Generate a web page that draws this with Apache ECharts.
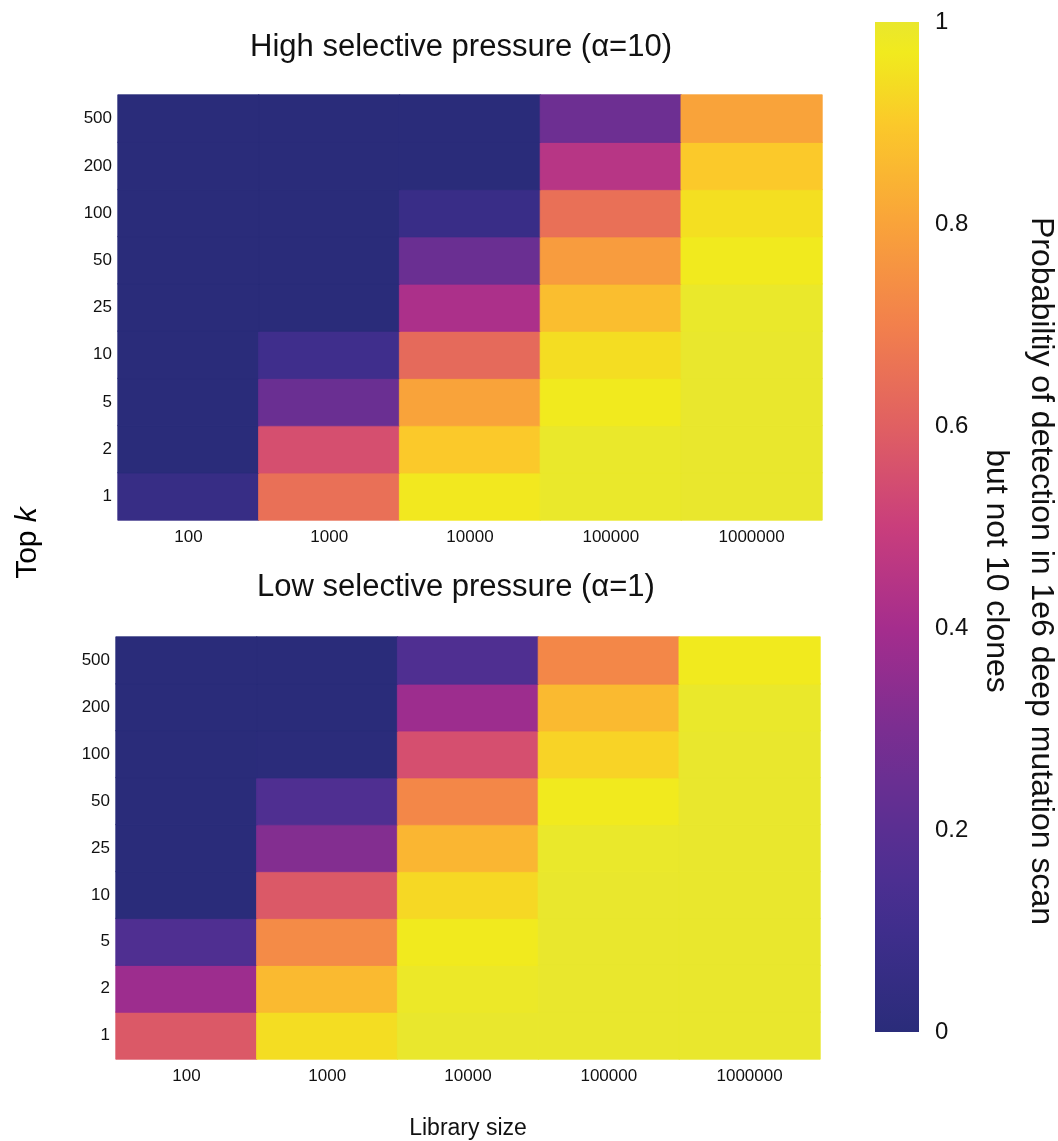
<!DOCTYPE html>
<html><head><meta charset="utf-8">
<script src="https://cdn.jsdelivr.net/npm/echarts@6/dist/echarts.min.js"></script>
<style>html,body{margin:0;padding:0;background:#fff}#c{width:1058px;height:1141px}</style>
</head><body><div id="c"></div><script>
const librarySizes = ['100', '1000', '10000', '100000', '1000000'];
const topK = ['1', '2', '5', '10', '25', '50', '100', '200', '500'];
// rows follow topK (bottom to top), columns follow librarySizes
const highPressure = [
  [0.06, 0.65, 0.965, 0.995, 1.0],
  [0.0, 0.55, 0.90, 0.995, 1.0],
  [0.0, 0.25, 0.80, 0.97, 1.0],
  [0.0, 0.10, 0.63, 0.94, 1.0],
  [0.0, 0.0, 0.42, 0.87, 0.995],
  [0.0, 0.0, 0.25, 0.78, 0.97],
  [0.0, 0.0, 0.07, 0.65, 0.945],
  [0.0, 0.0, 0.0, 0.45, 0.90],
  [0.0, 0.0, 0.0, 0.26, 0.80]
];
const lowPressure = [
  [0.58, 0.94, 1.0, 1.0, 1.0],
  [0.38, 0.86, 0.99, 1.0, 1.0],
  [0.16, 0.73, 0.97, 1.0, 1.0],
  [0.0, 0.58, 0.93, 1.0, 1.0],
  [0.0, 0.32, 0.85, 0.995, 1.0],
  [0.0, 0.16, 0.72, 0.97, 1.0],
  [0.0, 0.005, 0.55, 0.92, 1.0],
  [0.0, 0.0, 0.38, 0.86, 0.995],
  [0.0, 0.0, 0.16, 0.72, 0.97]
];
const colorTicks = [0, 0.2, 0.4, 0.6, 0.8, 1];
const colorStops = [
  [0, '#2a2c7a'], [0.1, '#3f2e8c'], [0.15, '#4c2f91'], [0.2, '#5a2f92'], [0.25, '#6a2f92'],
  [0.3, '#7b2e91'], [0.4, '#a52d8d'], [0.5, '#c93e7c'], [0.6, '#e06062'], [0.7, '#f2804c'],
  [0.8, '#f9a33a'], [0.9, '#fbc92a'], [0.94, '#f4dd22'], [0.97, '#f1ea1e'], [1, '#e9e72d']
];

function hex(c) { return [1, 3, 5].map(i => parseInt(c.slice(i, i + 2), 16)); }
function colorAt(v) {
  for (let i = 1; i < colorStops.length; i++) {
    if (v <= colorStops[i][0]) {
      const [a, ca] = colorStops[i - 1], [b, cb] = colorStops[i];
      const t = (v - a) / (b - a), A = hex(ca), B = hex(cb);
      return 'rgb(' + A.map((x, j) => Math.round(x + (B[j] - x) * t)).join(',') + ')';
    }
  }
  return colorStops[colorStops.length - 1][1];
}
const ramp = [];
for (let i = 0; i <= 200; i++) ramp.push(colorAt(i / 200));

function toCells(rows) {
  const out = [];
  rows.forEach((r, yi) => r.forEach((v, xi) => out.push({
    value: [xi, yi, v],
    itemStyle: { borderColor: colorAt(v), borderWidth: 0.8 }
  })));
  return out;
}

const FONT = '"Liberation Sans", Arial, Helvetica, sans-serif';
const TXT = '#111';
const grids = [
  { left: 118, top: 95, width: 704, height: 425 },
  { left: 116, top: 637, width: 704, height: 425 },
  { left: 875, top: 22, width: 44, height: 1010 }
];
function catX(gi, extra) {
  return Object.assign({
    gridIndex: gi, type: 'category', data: librarySizes,
    axisLine: { show: false }, axisTick: { show: false }, splitLine: { show: false },
    axisLabel: { fontSize: 17, color: TXT, fontFamily: FONT, margin: 9 }
  }, extra || {});
}
function catY(gi) {
  return {
    gridIndex: gi, type: 'category', data: topK,
    axisLine: { show: false }, axisTick: { show: false }, splitLine: { show: false },
    axisLabel: { fontSize: 17, color: TXT, fontFamily: FONT, margin: 6 }
  };
}

const chart = echarts.init(document.getElementById('c'), null, { renderer: 'canvas' });
chart.setOption({
  backgroundColor: '#fff',
  animation: false,
  grid: grids,
  xAxis: [
    catX(0),
    catX(1, { name: 'Library size', nameLocation: 'middle', nameGap: 58,
      nameTextStyle: { fontSize: 23, color: TXT, fontFamily: FONT } }),
    { gridIndex: 2, type: 'value', min: 0, max: 1, show: false }
  ],
  yAxis: [
    catY(0), catY(1),
    { gridIndex: 2, type: 'value', min: 0, max: 1, interval: 0.2, position: 'right',
      axisLine: { show: false }, axisTick: { show: false }, splitLine: { show: false },
      axisLabel: { fontSize: 24, color: TXT, fontFamily: FONT, margin: 16,
        customValues: colorTicks, formatter: v => String(v) } }
  ],
  visualMap: {
    type: 'continuous', min: 0, max: 1, show: false, seriesIndex: [0, 1],
    inRange: { color: ramp }
  },
  series: [
    { type: 'heatmap', xAxisIndex: 0, yAxisIndex: 0, data: toCells(highPressure),
      emphasis: { disabled: true }, progressive: 0 },
    { type: 'heatmap', xAxisIndex: 1, yAxisIndex: 1, data: toCells(lowPressure),
      emphasis: { disabled: true }, progressive: 0 },
    { type: 'custom', xAxisIndex: 2, yAxisIndex: 2, data: [[0, 0]], silent: true,
      renderItem: function (params, api) {
        const p0 = api.coord([0, 0]), p1 = api.coord([1, 1]);
        return {
          type: 'rect',
          shape: { x: p0[0], y: p1[1], width: p1[0] - p0[0], height: p0[1] - p1[1] },
          style: { fill: new echarts.graphic.LinearGradient(0, 1, 0, 0,
            colorStops.map(s => ({ offset: s[0], color: s[1] }))) }
        };
      } }
  ],
  graphic: [
    { type: 'text', x: 461, y: 47, style: { text: 'High selective pressure (α=10)', fontSize: 31,
      fontFamily: FONT, fill: TXT, textAlign: 'center', textVerticalAlign: 'middle' } },
    { type: 'text', x: 456, y: 587, style: { text: 'Low selective pressure (α=1)', fontSize: 31,
      fontFamily: FONT, fill: TXT, textAlign: 'center', textVerticalAlign: 'middle' } },
    { type: 'text', x: 28, y: 543, rotation: Math.PI / 2, style: {
      text: '{a|Top }{b|k}', textAlign: 'center', textVerticalAlign: 'middle',
      rich: { a: { fontSize: 30, fontFamily: FONT, color: TXT },
              b: { fontSize: 30, fontFamily: FONT, color: TXT, fontStyle: 'italic' } } } },
    { type: 'text', x: 1018, y: 571, rotation: -Math.PI / 2, style: {
      text: 'Probabiltiy of detection in 1e6 deep mutation scan\nbut not 10 clones',
      fontSize: 32, lineHeight: 45, fontFamily: FONT, fill: TXT,
      textAlign: 'center', textVerticalAlign: 'middle' } }
  ]
});
</script></body></html>
